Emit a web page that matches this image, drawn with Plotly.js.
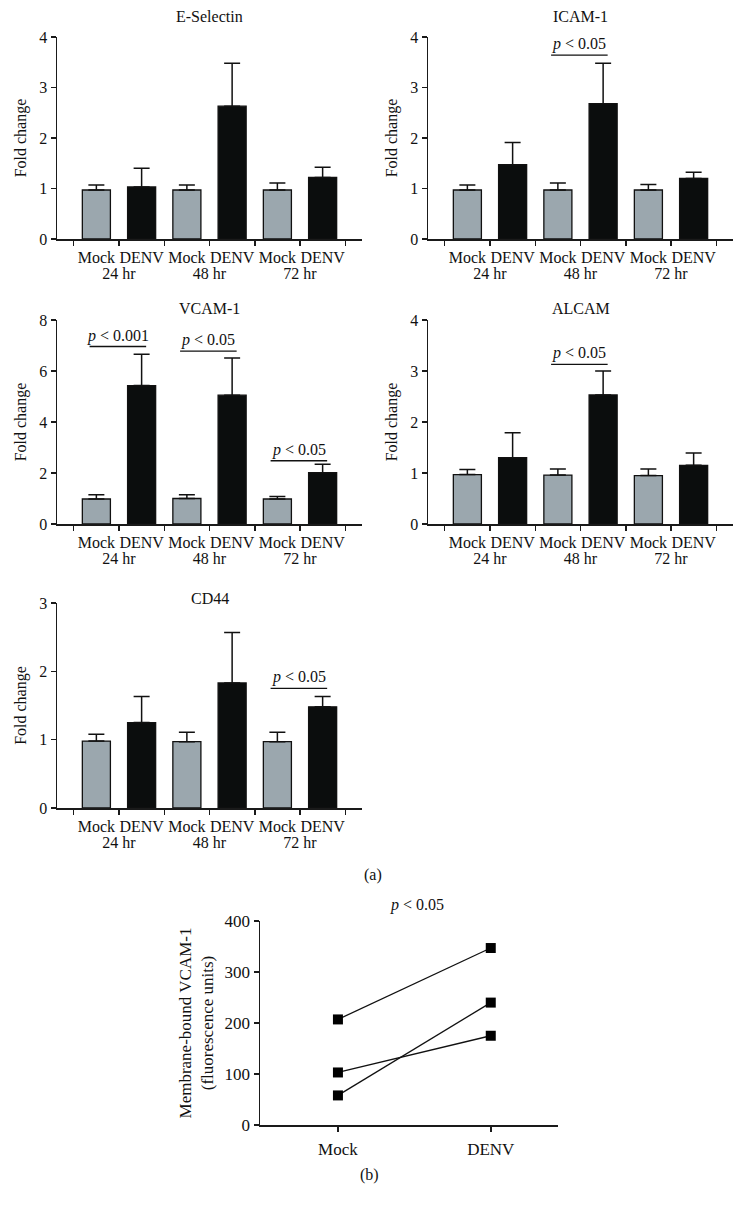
<!DOCTYPE html>
<html><head><meta charset="utf-8">
<script src="https://cdn.plot.ly/plotly-3.0.1.min.js"></script>
<style>html,body{margin:0;padding:0;background:#fff}</style>
</head><body><div id="chart" style="width:742px;height:1207px"></div>
<script>
// ---- data ----
const groups = ["24 hr","24 hr","48 hr","48 hr","72 hr","72 hr"];
const conditions = ["Mock","DENV","Mock","DENV","Mock","DENV"];

const eSelMean = [0.97, 1.03, 0.97, 2.63, 0.97, 1.22];
const eSelErr  = [0.10, 0.37, 0.10, 0.85, 0.14, 0.20];
const icamMean = [0.97, 1.47, 0.97, 2.68, 0.97, 1.20];
const icamErr  = [0.10, 0.44, 0.14, 0.80, 0.11, 0.12];
const vcamMean = [0.98, 5.43, 1.00, 5.05, 0.98, 2.01];
const vcamErr  = [0.17, 1.23, 0.15, 1.46, 0.10, 0.33];
const alcamMean = [0.97, 1.30, 0.96, 2.53, 0.95, 1.15];
const alcamErr  = [0.10, 0.49, 0.12, 0.47, 0.13, 0.24];
const cd44Mean = [0.98, 1.25, 0.97, 1.83, 0.97, 1.48];
const cd44Err  = [0.10, 0.38, 0.14, 0.74, 0.14, 0.15];

// significance brackets: [fromIndex, toIndex, lineY, label]
const icamSig  = [[2, 3, 3.64, "p < 0.05"]];
const vcamSig  = [[0, 1, 6.96, "p < 0.001"], [2, 3, 6.78, "p < 0.05"], [4, 5, 2.48, "p < 0.05"]];
const alcamSig = [[2, 3, 3.13, "p < 0.05"]];
const cd44Sig  = [[4, 5, 1.75, "p < 0.05"]];

// panel (b)
const bCategories = ["Mock", "DENV"];
const bMock = [207, 103, 58];
const bDenv = [347, 175, 240];
const bYTicks = [0, 100, 200, 300, 400];

// ---- layout helpers ----
const W = 742, H = 1207;
const SERIF = "Liberation Serif, Times New Roman, serif";
const condColor = {Mock: "#9ba7ae", DENV: "#0b0d0d"};
const XR = [-0.87, 5.87];

const panels = [
  {title: "E-Selectin", mean: eSelMean, err: eSelErr, ymax: 4, dtick: 1, sig: [], box: [57, 362, 37, 239], ty: 17},
  {title: "ICAM-1", mean: icamMean, err: icamErr, ymax: 4, dtick: 1, sig: icamSig, box: [428, 733, 37, 239], ty: 17},
  {title: "VCAM-1", mean: vcamMean, err: vcamErr, ymax: 8, dtick: 2, sig: vcamSig, box: [57, 362, 320, 524], ty: 308},
  {title: "ALCAM", mean: alcamMean, err: alcamErr, ymax: 4, dtick: 1, sig: alcamSig, box: [428, 733, 320, 524], ty: 308},
  {title: "CD44", mean: cd44Mean, err: cd44Err, ymax: 3, dtick: 1, sig: cd44Sig, box: [57, 362, 603, 808], ty: 598}
];

const data = [];
const layout = {
  width: W, height: H,
  margin: {l: 0, r: 0, t: 0, b: 0},
  paper_bgcolor: "#fff", plot_bgcolor: "#fff",
  showlegend: false,
  font: {family: SERIF, size: 15, color: "#111"},
  bargap: 0.38,
  shapes: [], annotations: []
};

function axisBase() {
  return {
    showgrid: false, zeroline: false, showline: true,
    linecolor: "#1a1a1a", linewidth: 1.5,
    ticks: "outside", ticklen: 5, tickwidth: 1.5, tickcolor: "#1a1a1a",
    tickfont: {family: SERIF, size: 15, color: "#111"},
    fixedrange: true
  };
}

function frac(idx) { return (idx - XR[0]) / (XR[1] - XR[0]); }

panels.forEach((p, i) => {
  const n = i + 1;
  const xa = "x" + (n === 1 ? "" : n), ya = "y" + (n === 1 ? "" : n);
  const xkey = "xaxis" + (n === 1 ? "" : n), ykey = "yaxis" + (n === 1 ? "" : n);
  const [x0, x1, y0, y1] = p.box;
  data.push({
    type: "bar", xaxis: xa, yaxis: ya,
    x: [groups, conditions], y: p.mean,
    marker: {color: conditions.map(c => condColor[c]), line: {color: "#111", width: 1.3}},
    error_y: {type: "data", symmetric: false, array: p.err, arrayminus: p.err.map(() => 0),
              color: "#111", thickness: 1.5, width: 8},
    hoverinfo: "none"
  });
  layout[xkey] = Object.assign(axisBase(), {
    type: "multicategory", domain: [x0 / W, x1 / W], anchor: ya,
    range: XR, showdividers: false, tickangle: 0, ticklabelstandoff: 3,
    tickfont: {family: SERIF, size: 16, color: "#111"}
  });
  layout[ykey] = Object.assign(axisBase(), {
    domain: [1 - y1 / H, 1 - y0 / H], anchor: xa,
    range: [0, p.ymax], dtick: p.dtick, tick0: 0,
    tickfont: {family: SERIF, size: 16, color: "#111"},
    title: {text: "Fold change", font: {family: SERIF, size: 16, color: "#111"}, standoff: 8}
  });
  layout.annotations.push({
    xref: "paper", yref: "paper", x: (x0 + x1) / 2 / W, y: 1 - p.ty / H,
    text: p.title, showarrow: false, xanchor: "center", yanchor: "middle",
    font: {family: SERIF, size: 16, color: "#111"}
  });
  p.sig.forEach(s => {
    const [a, b, ly, label] = s;
    layout.shapes.push({
      type: "line", xref: xa + " domain", yref: ya,
      x0: frac(a - 0.15), x1: frac(b + 0.1), y0: ly, y1: ly,
      line: {color: "#111", width: 1.3}
    });
    layout.annotations.push({
      xref: xa + " domain", yref: ya, x: (frac(a - 0.15) + frac(b + 0.1)) / 2, y: ly,
      yanchor: "bottom", xanchor: "center", yshift: 0, showarrow: false,
      text: "<i>" + label.slice(0, 1) + "</i>" + label.slice(1),
      font: {family: SERIF, size: 16, color: "#111"}
    });
  });
});

// panel (b)
const bBox = [260, 558, 921, 1125];
for (let k = 0; k < bMock.length; k++) {
  data.push({
    type: "scatter", mode: "lines+markers", xaxis: "x6", yaxis: "y6",
    x: bCategories, y: [bMock[k], bDenv[k]],
    line: {color: "#111", width: 1.3},
    marker: {symbol: "square", size: 10, color: "#000"},
    hoverinfo: "none", cliponaxis: false
  });
}
layout.xaxis6 = Object.assign(axisBase(), {
  type: "category", domain: [bBox[0] / W, bBox[1] / W], anchor: "y6",
  range: [-0.51, 1.44], tickangle: 0, ticklabelstandoff: 3,
  tickfont: {family: SERIF, size: 17, color: "#111"}
});
layout.yaxis6 = Object.assign(axisBase(), {
  domain: [1 - bBox[3] / H, 1 - bBox[2] / H], anchor: "x6",
  range: [0, 400], tickvals: bYTicks,
  tickfont: {family: SERIF, size: 17, color: "#111"},
  title: {text: "Membrane-bound VCAM-1<br>(fluorescence units)", font: {family: SERIF, size: 17, color: "#111"}, standoff: 6}
});
layout.annotations.push({
  xref: "paper", yref: "paper", x: 417 / W, y: 1 - 905 / H,
  text: "<i>p</i> < 0.05", showarrow: false, xanchor: "center", yanchor: "middle",
  font: {family: SERIF, size: 16, color: "#111"}
});
layout.annotations.push({
  xref: "paper", yref: "paper", x: 373 / W, y: 1 - 875 / H,
  text: "(a)", showarrow: false, xanchor: "center", yanchor: "middle",
  font: {family: SERIF, size: 16, color: "#111"}
});
layout.annotations.push({
  xref: "paper", yref: "paper", x: 369 / W, y: 1 - 1175 / H,
  text: "(b)", showarrow: false, xanchor: "center", yanchor: "middle",
  font: {family: SERIF, size: 16, color: "#111"}
});

Plotly.newPlot("chart", data, layout, {staticPlot: true, displayModeBar: false});
</script></body></html>
